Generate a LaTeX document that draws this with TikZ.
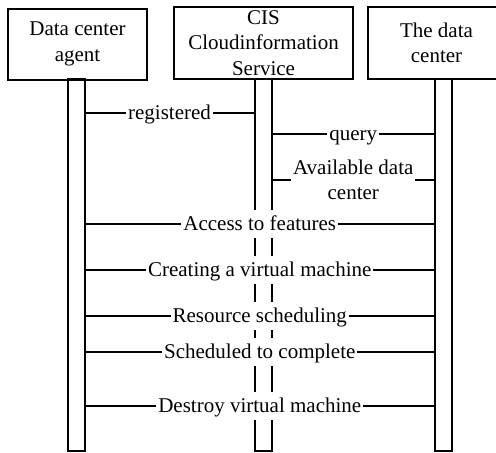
\documentclass[tikz,border=0pt]{standalone}
\usepackage{fontspec}
\setmainfont{Liberation Serif}
\usetikzlibrary{positioning}
\tikzset{actor/.style={draw,rectangle,inner sep=0pt,align=center},
bar/.style={draw,rectangle,inner sep=0pt,minimum width=8.5pt,minimum height=186pt},
msg/.style={fill=white,inner xsep=1pt,inner ysep=2pt,text height=8pt,text depth=2pt}}

\begin{document}
\begin{tikzpicture}[x=0.5pt, y=-0.5pt, line width=1pt, font=\fontsize{10.5pt}{12.8pt}\selectfont]
\clip (0,0) rectangle (496,452);
\node[actor, minimum width=69.5pt, minimum height=35.5pt] (P0) at (77.5,44) {Data center\\agent};
\node[actor, minimum width=89.5pt, minimum height=36pt] (P1) at (263.5,43) {CIS\\Cloudinformation\\Service};
\node[actor, minimum width=68.5pt, minimum height=36pt] (P2) at (436.5,43) {The data\\center};

\node[bar] (B0) at (76,265) {};
\node[bar] (B1) at (263,265) {};
\node[bar] (B2) at (443.5,265) {};

\coordinate (m1) at (0,113);
\coordinate (m2) at (0,134);
\coordinate (m3) at (0,180);
\coordinate (m4) at (0,224);
\coordinate (m5) at (0,270);
\coordinate (m6) at (0,316);
\coordinate (m7) at (0,352);
\coordinate (m8) at (0,406);

\path (B0.east |- m1) edge node[msg] {registered} (B1.west |- m1)
(B1.east |- m2) edge node[msg] {query} (B2.west |- m2)
(B1.east |- m3) edge node[fill=white, inner sep=1pt, align=center] {Available data\\center} (B2.west |- m3)
(B0.east |- m4) edge node[msg] {Access to features} (B2.west |- m4)
(B0.east |- m5) edge node[msg] {Creating a virtual machine} (B2.west |- m5)
(B0.east |- m6) edge node[msg] {Resource scheduling} (B2.west |- m6)
(B0.east |- m7) edge node[msg] {Scheduled to complete} (B2.west |- m7)
(B0.east |- m8) edge node[msg] {Destroy virtual machine} (B2.west |- m8)
;
\end{tikzpicture}
\end{document}
